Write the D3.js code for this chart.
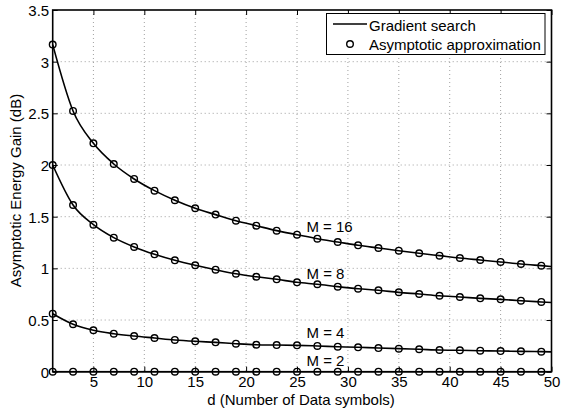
<!DOCTYPE html>
<html>
<head>
<script src="https://d3js.org/d3.v7.min.js"></script>
<style>
  body { margin: 0; background: #fff; }
  text { font-family: "Liberation Sans", Arial, sans-serif; }
</style>
</head>
<body>
<svg width="561" height="413"></svg>
<script>
// marker positions (asymptotic approximation)
const dMarks = [1,3,5,7,9,11,13,15,17,19,21,23,25,27,29,31,33,35,37,39,41,43,45,47,49]
const approx16 = [3.165,2.523,2.21,2.01,1.865,1.752,1.659,1.581,1.52,1.461,1.413,1.365,1.326,1.287,1.255,1.223,1.197,1.171,1.146,1.123,1.1,1.081,1.062,1.042,1.026]
const approx8 = [2.0,1.613,1.423,1.297,1.207,1.136,1.078,1.03,0.987,0.948,0.919,0.894,0.865,0.846,0.823,0.803,0.788,0.768,0.752,0.735,0.723,0.71,0.7,0.687,0.675]
const approx4 = [0.561,0.459,0.401,0.368,0.345,0.326,0.307,0.294,0.284,0.271,0.261,0.258,0.255,0.249,0.242,0.236,0.229,0.223,0.217,0.21,0.207,0.203,0.2,0.197,0.194]
const approx2 = [0,0,0,0,0,0,0,0,0,0,0,0,0,0,0,0,0,0,0,0,0,0,0,0,0]

// gradient search curves (same points, running on to d = 50)
const dGrad = [1,3,5,7,9,11,13,15,17,19,21,23,25,27,29,31,33,35,37,39,41,43,45,47,49,50]
const grad16 = [3.165,2.523,2.21,2.01,1.865,1.752,1.659,1.581,1.52,1.461,1.413,1.365,1.326,1.287,1.255,1.223,1.197,1.171,1.146,1.123,1.1,1.081,1.062,1.042,1.026,1.018]
const grad8 = [2.0,1.613,1.423,1.297,1.207,1.136,1.078,1.03,0.987,0.948,0.919,0.894,0.865,0.846,0.823,0.803,0.788,0.768,0.752,0.735,0.723,0.71,0.7,0.687,0.675,0.669]
const grad4 = [0.561,0.459,0.401,0.368,0.345,0.326,0.307,0.294,0.284,0.271,0.261,0.258,0.255,0.249,0.242,0.236,0.229,0.223,0.217,0.21,0.207,0.203,0.2,0.197,0.194,0.192]
const grad2 = [0,0,0,0,0,0,0,0,0,0,0,0,0,0,0,0,0,0,0,0,0,0,0,0,0,0]

const labelText = ["M = 16","M = 8","M = 4","M = 2"]
const labelD = [28.2,27.8,27.8,27.8]
const labelY = [1.35,0.895,0.325,0.055]

const xTicks = [5,10,15,20,25,30,35,40,45,50]
const yTicks = [0,0.5,1,1.5,2,2.5,3,3.5]

const svg = d3.select("svg")
const pLeft = 52.7, pRight = 551.5, pTop = 10, pBottom = 371.7

const x = d3.scaleLinear().domain([1,50]).range([pLeft,pRight])
const y = d3.scaleLinear().domain([0,3.5]).range([pBottom,pTop])

// grid
svg.append("g").selectAll("line").data(xTicks.slice(0,-1)).enter().append("line")
  .attr("x1", d => x(d)).attr("x2", d => x(d)).attr("y1", pTop).attr("y2", pBottom)
  .attr("stroke", "#888").attr("stroke-width", 0.8).attr("stroke-dasharray", "1,3")
svg.append("g").selectAll("line").data(yTicks.slice(1,-1)).enter().append("line")
  .attr("y1", d => y(d)).attr("y2", d => y(d)).attr("x1", pLeft).attr("x2", pRight)
  .attr("stroke", "#888").attr("stroke-width", 0.8).attr("stroke-dasharray", "1,3")

// axes (ticks inward on all sides)
const fs = "15px"
const gx = svg.append("g").attr("transform", "translate(0," + pBottom + ")")
  .call(d3.axisBottom(x).tickValues(xTicks).tickSize(-5).tickPadding(5).tickFormat(d3.format("d")))
const gxt = svg.append("g").attr("transform", "translate(0," + pTop + ")")
  .call(d3.axisTop(x).tickValues(xTicks).tickSize(-5).tickFormat(""))
const gy = svg.append("g").attr("transform", "translate(" + pLeft + ",0)")
  .call(d3.axisLeft(y).tickValues(yTicks).tickSize(-5).tickPadding(3.5).tickFormat(d3.format("")))
const gyr = svg.append("g").attr("transform", "translate(" + pRight + ",0)")
  .call(d3.axisRight(y).tickValues(yTicks).tickSize(-5).tickFormat(""))
;[gx, gxt, gy, gyr].forEach(g => {
  g.select(".domain").remove()
  g.selectAll("line").attr("stroke", "#000").attr("stroke-width", 1)
  g.selectAll("text").attr("fill", "#000").style("font-size", fs)
    .style("font-family", "'Liberation Sans', Arial, sans-serif")
})
gy.selectAll("text").attr("dy", "0.36em")

svg.append("rect").attr("x", pLeft).attr("y", pTop)
  .attr("width", pRight - pLeft).attr("height", pBottom - pTop)
  .attr("fill", "none").attr("stroke", "#000").attr("stroke-width", 1.6)

// curves
const line = d3.line().x(d => x(d[0])).y(d => y(d[1])).curve(d3.curveMonotoneX)
;[grad16, grad8, grad4, grad2].forEach(vals => {
  svg.append("path").datum(dGrad.map((d, i) => [d, vals[i]]))
    .attr("d", line).attr("fill", "none").attr("stroke", "#000").attr("stroke-width", 1.6)
})
;[approx16, approx8, approx4, approx2].forEach(vals => {
  svg.append("g").selectAll("circle").data(dMarks.map((d, i) => [d, vals[i]])).enter()
    .append("circle").attr("cx", d => x(d[0])).attr("cy", d => y(d[1])).attr("r", 3.3)
    .attr("fill", "none").attr("stroke", "#000").attr("stroke-width", 1.4)
})

// curve labels
svg.append("g").selectAll("text").data(labelText).enter().append("text")
  .attr("x", (d, i) => x(labelD[i])).attr("y", (d, i) => y(labelY[i]))
  .attr("text-anchor", "middle").style("font-size", fs).text(d => d)

// axis titles
svg.append("text").attr("x", 301).attr("y", 404.5)
  .attr("text-anchor", "middle").style("font-size", fs).text("d (Number of Data symbols)")
svg.append("text").attr("transform", "translate(21,190.5) rotate(-90)")
  .attr("text-anchor", "middle").style("font-size", fs).text("Asymptotic Energy Gain (dB)")

// legend
const lg = svg.append("g")
lg.append("rect").attr("x", 326.5).attr("y", 13.5).attr("width", 218.5).attr("height", 41)
  .attr("fill", "#fff").attr("stroke", "#000").attr("stroke-width", 1)
lg.append("line").attr("x1", 333).attr("x2", 367).attr("y1", 24).attr("y2", 24)
  .attr("stroke", "#000").attr("stroke-width", 1.6)
lg.append("circle").attr("cx", 350).attr("cy", 44).attr("r", 3.3)
  .attr("fill", "none").attr("stroke", "#000").attr("stroke-width", 1.4)
lg.append("text").attr("x", 369).attr("y", 30.5).style("font-size", fs).text("Gradient search")
lg.append("text").attr("x", 369).attr("y", 50).style("font-size", fs).text("Asymptotic approximation")
</script>
</body>
</html>
